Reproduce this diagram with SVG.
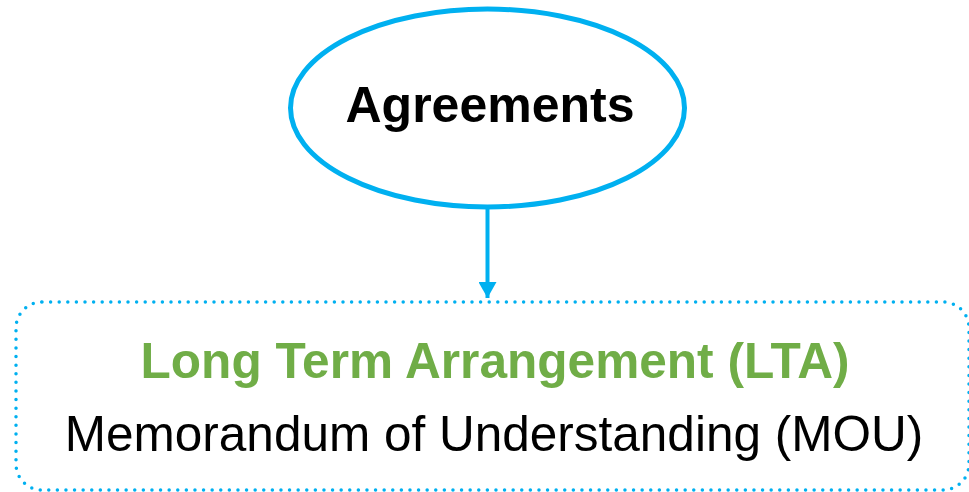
<svg xmlns="http://www.w3.org/2000/svg" width="969" height="492" viewBox="0 0 969 492">
  <defs>
    <style>
      .blue { stroke: #00B0F0; fill: none; }
      .t { font-family: "Liberation Sans", Arial, sans-serif; text-anchor: middle; }
    </style>
    <marker id="arrow" markerUnits="userSpaceOnUse" markerWidth="18" markerHeight="18" refX="16" refY="9" orient="auto">
      <polygon points="0,0 16,9 0,18" fill="#00B0F0"/>
    </marker>
  </defs>
  <rect width="969" height="492" fill="#FFFFFF"/>
  <g id="connectors">
    <line class="blue" x1="487.5" y1="209" x2="487.5" y2="298" stroke-width="4" marker-end="url(#arrow)"/>
  </g>
  <g id="node-agreements">
    <ellipse class="blue" cx="487.5" cy="108" rx="197" ry="99" stroke-width="5" fill="#FFFFFF"/>
    <text class="t" x="490" y="122" font-size="50" font-weight="bold" fill="#000000">Agreements</text>
  </g>
  <g id="node-types">
    <rect class="blue" x="16" y="302" width="953" height="188" rx="26" ry="26" stroke-width="3.5" stroke-dasharray="0 8.6" stroke-linecap="round"/>
    <text class="t" x="495" y="378" font-size="49.6" font-weight="bold" fill="#70AD47">Long Term Arrangement (LTA)</text>
    <text class="t" x="494" y="451" font-size="49.5" fill="#000000">Memorandum of Understanding (MOU)</text>
  </g>
</svg>
